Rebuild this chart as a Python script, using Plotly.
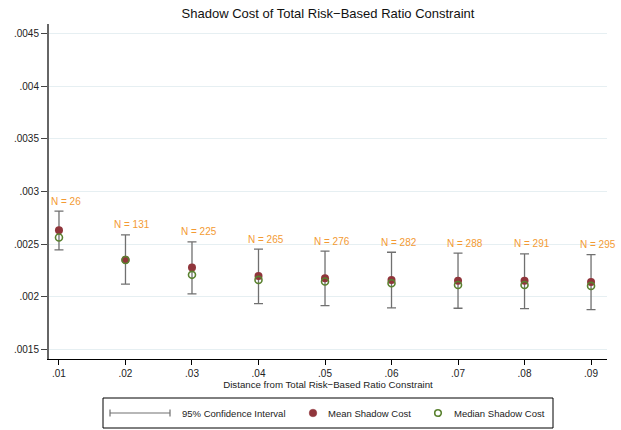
import plotly.graph_objects as go

# Data
distance = [0.01, 0.02, 0.03, 0.04, 0.05, 0.06, 0.07, 0.08, 0.09]
mean_cost = [0.002633, 0.002352, 0.002279, 0.002200, 0.002178, 0.002162, 0.002155, 0.002153, 0.002143]
median_cost = [0.002564, 0.002350, 0.002210, 0.002162, 0.002147, 0.002130, 0.002114, 0.002114, 0.002105]
ci_upper = [0.002813, 0.002589, 0.002523, 0.002453, 0.002434, 0.002424, 0.002415, 0.002409, 0.002402]
ci_lower = [0.002447, 0.002121, 0.002030, 0.001937, 0.001918, 0.001896, 0.001893, 0.001890, 0.001880]
n_obs = [26, 131, 225, 265, 276, 282, 288, 291, 295]

x_tickvals = [0.01, 0.02, 0.03, 0.04, 0.05, 0.06, 0.07, 0.08, 0.09]
x_ticktext = [".01", ".02", ".03", ".04", ".05", ".06", ".07", ".08", ".09"]
y_tickvals = [0.0015, 0.002, 0.0025, 0.003, 0.0035, 0.004, 0.0045]
y_ticktext = [".0015", ".002", ".0025", ".003", ".0035", ".004", ".0045"]
legend_labels = ["95% Confidence Interval", "Mean Shadow Cost", "Median Shadow Cost"]

FONT = "Liberation Sans, Arial, sans-serif"
CI_COLOR = "#707070"
MEAN_COLOR = "#90353B"
MEDIAN_COLOR = "#5A8230"
LABEL_COLOR = "#F39A33"

W, H = 621, 430
ML, MR, MT, MB = 49, 14, 24, 71
PW, PH = W - ML - MR, H - MT - MB


def px(x):  # window pixel -> paper x
    return (x - ML) / PW


def py(y):  # window pixel -> paper y
    return (H - MB - y) / PH


mid = [(u + l) / 2 for u, l in zip(ci_upper, ci_lower)]
half = [(u - l) / 2 for u, l in zip(ci_upper, ci_lower)]

fig = go.Figure()

# confidence interval (error bars on invisible markers)
fig.add_trace(go.Scatter(
    x=distance, y=mid, mode="markers",
    marker=dict(size=1, color="rgba(0,0,0,0)"),
    error_y=dict(type="data", array=half, symmetric=True,
                 color=CI_COLOR, thickness=1.3, width=4.5),
    name=legend_labels[0], showlegend=False, hoverinfo="skip", cliponaxis=False,
))
fig.add_trace(go.Scatter(
    x=distance, y=mean_cost, mode="markers",
    marker=dict(size=8, color=MEAN_COLOR, symbol="circle"),
    name=legend_labels[1], showlegend=False,
))
fig.add_trace(go.Scatter(
    x=distance, y=median_cost, mode="markers",
    marker=dict(size=7, color=MEDIAN_COLOR, symbol="circle-open",
                line=dict(color=MEDIAN_COLOR, width=1.6)),
    name=legend_labels[2], showlegend=False,
))

for xv, yv, n in zip(distance, ci_upper, n_obs):
    fig.add_annotation(
        x=xv, y=yv, text=f"N = {n}", showarrow=False,
        xanchor="center", yanchor="middle", xshift=7, yshift=10,
        font=dict(family=FONT, size=10, color=LABEL_COLOR),
    )

# ---- legend box drawn in the Stata style (box with keys) ----
LY = 413
fig.add_shape(type="rect", xref="paper", yref="paper",
              x0=px(103), x1=px(553), y0=py(398), y1=py(428),
              line=dict(color="black", width=1), fillcolor="white", layer="above")
# CI key: horizontal bar with caps
fig.add_shape(type="line", xref="paper", yref="paper",
              x0=px(110), x1=px(170), y0=py(LY), y1=py(LY),
              line=dict(color=CI_COLOR, width=1.2))
for cx in (110, 170):
    fig.add_shape(type="line", xref="paper", yref="paper",
                  x0=px(cx), x1=px(cx), y0=py(LY - 3.5), y1=py(LY + 3.5),
                  line=dict(color=CI_COLOR, width=1.2))
# mean key: filled circle
fig.add_shape(type="circle", xref="paper", yref="paper",
              xsizemode="pixel", ysizemode="pixel",
              xanchor=px(313), yanchor=py(LY), x0=-3.8, x1=3.8, y0=-3.8, y1=3.8,
              fillcolor=MEAN_COLOR, line=dict(color=MEAN_COLOR, width=0.5))
# median key: hollow circle
fig.add_shape(type="circle", xref="paper", yref="paper",
              xsizemode="pixel", ysizemode="pixel",
              xanchor=px(438), yanchor=py(LY), x0=-3.3, x1=3.3, y0=-3.3, y1=3.3,
              fillcolor="rgba(0,0,0,0)", line=dict(color=MEDIAN_COLOR, width=1.6))
for tx, lab in zip((180, 326, 452), legend_labels):
    fig.add_annotation(x=px(tx), y=py(LY), xref="paper", yref="paper",
                       text=lab, showarrow=False, xanchor="left", yanchor="middle",
                       font=dict(family=FONT, size=9.5, color="#222"))

fig.update_layout(
    width=W, height=H,
    margin=dict(l=ML, r=MR, t=MT, b=MB, autoexpand=False),
    paper_bgcolor="white", plot_bgcolor="white",
    font=dict(family=FONT, size=10, color="#222"),
    title=dict(text="Shadow Cost of Total Risk\u2212Based Ratio Constraint",
               x=328 / W, xref="container", xanchor="center",
               y=1 - 13 / H, yref="container", yanchor="middle",
               font=dict(family=FONT, size=13, color="#111")),
    showlegend=False,
)

fig.update_xaxes(
    range=[0.0085, 0.0924], tickvals=x_tickvals, ticktext=x_ticktext,
    showgrid=False, zeroline=False, showline=True, linecolor="black",
    linewidth=1, ticks="outside", ticklen=5, tickcolor="black",
    automargin=False,
    tickfont=dict(family=FONT, size=10, color="#222"),
    title=dict(text="Distance from Total Risk\u2212Based Ratio Constraint",
               font=dict(family=FONT, size=9.7, color="#222"), standoff=2),
)
fig.update_yaxes(
    range=[0.001412, 0.004588], tickvals=y_tickvals, ticktext=y_ticktext,
    showgrid=True, gridcolor="#E6EFF2", gridwidth=1, zeroline=False,
    showline=True, linecolor="#666", linewidth=2,
    ticks="outside", ticklen=6, tickcolor="#444", automargin=False,
    tickfont=dict(family=FONT, size=10, color="#222"),
)

fig.write_html("out.html", config={"displayModeBar": False},
               post_script="document.body.style.margin='0';")
